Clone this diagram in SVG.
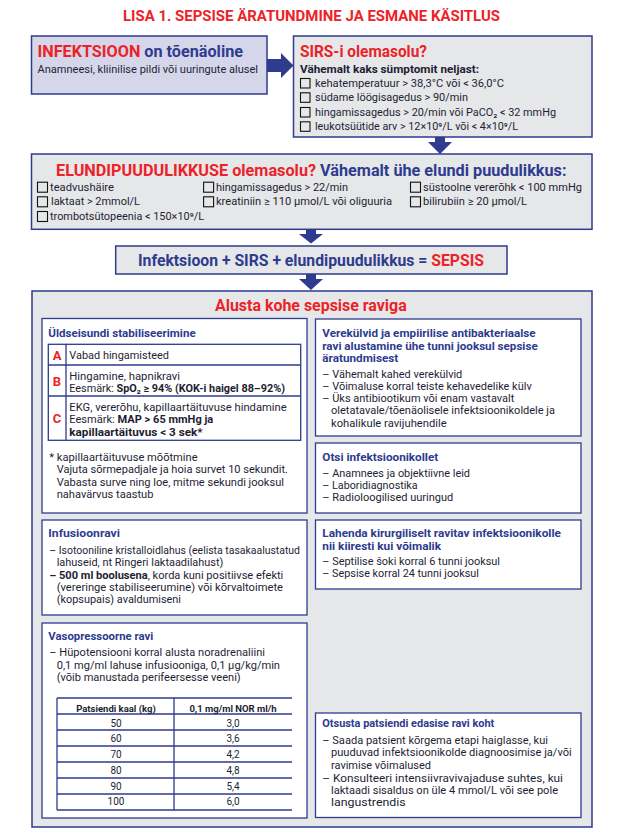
<svg xmlns="http://www.w3.org/2000/svg" width="633" height="835" viewBox="0 0 633 835">
<style>
text{font-family:Roboto,"Noto Sans","DejaVu Sans",sans-serif}
.big{font-size:16px;font-weight:700}
.red{fill:#ec2229}
.nv{fill:#2e3b8e}
.b{font-size:10.4px;fill:#1e1e34}
.bb{font-weight:700}
.h{font-size:10.3px;font-weight:700;fill:#2e3b8e}
.frame{stroke:#2e3b8e;stroke-width:1.5}
.pan{fill:#fff;stroke:#2e3b8e;stroke-width:1.3}
.cb{fill:none;stroke:#111;stroke-width:1.1}
.ln{stroke:#2e3b8e;stroke-width:1.3;fill:none}
.arr{fill:#2e3b8e}
.abc{font-size:13px;font-weight:700;fill:#ec2229}
.th{font-size:9.5px;font-weight:700;fill:#1e1e34}
.td{font-size:10px;fill:#1e1e34}
</style>
<rect width="633" height="835" fill="#fff"/>
<text id="title" class="big red" x="123" y="21" textLength="377" lengthAdjust="spacingAndGlyphs" style="font-size:15.5px">LISA 1. SEPSISE ÄRATUNDMINE JA ESMANE KÄSITLUS</text>

<g id="connectors">
<polygon class="arr" points="267,59 281,59 281,53 293.5,65.5 281,78 281,72 267,72"/>
<polygon class="arr" points="435,137 445,137 445,142 452,142 440,154 428,142 435,142"/>
<polygon class="arr" points="306,229 316,229 316,234 323,234 311,243.5 299,234 306,234"/>
<polygon class="arr" points="306,274 316,274 316,279 323,279 311,290 299,279 306,279"/>
</g>

<g id="infektsioon">
<rect class="frame" x="31.5" y="36" width="235.5" height="58" fill="#d5d6ea"/>
<text class="big" x="37.5" y="57" textLength="205.5" lengthAdjust="spacingAndGlyphs"><tspan class="red">INFEKTSIOON</tspan> <tspan class="nv">on tõenäoline</tspan></text>
<text class="b" x="37.5" y="73" textLength="220.5" lengthAdjust="spacingAndGlyphs">Anamneesi, kliinilise pildi või uuringute alusel</text>
</g>

<g id="sirs">
<rect class="frame" x="293.5" y="36" width="298.5" height="101" fill="#e6e7e9"/>
<text class="big red" x="300" y="57" textLength="127" lengthAdjust="spacingAndGlyphs">SIRS-i olemasolu?</text>
<text class="b bb nv" x="300" y="73" textLength="179" lengthAdjust="spacingAndGlyphs">Vähemalt kaks sümptomit neljast:</text>
<rect class="cb" x="300.5" y="78.5" width="9.5" height="9.5"/>
<rect class="cb" x="300.5" y="92.8" width="9.5" height="9.5"/>
<rect class="cb" x="300.5" y="107.5" width="9.5" height="9.5"/>
<rect class="cb" x="300.5" y="121.8" width="9.5" height="9.5"/>
<text class="b" x="315" y="86.7" textLength="189" lengthAdjust="spacingAndGlyphs">kehatemperatuur  &gt; 38,3°C või &lt; 36,0°C</text>
<text class="b" x="315" y="101" textLength="153" lengthAdjust="spacingAndGlyphs">südame löögisagedus &gt; 90/min</text>
<text class="b" x="315" y="115.7" textLength="241" lengthAdjust="spacingAndGlyphs">hingamissagedus &gt; 20/min või PaCO₂ &lt; 32 mmHg</text>
<text class="b" x="315" y="130" textLength="203" lengthAdjust="spacingAndGlyphs">leukotsüütide arv &gt; 12×10⁹/L või &lt; 4×10⁹/L</text>
</g>

<g id="elundi">
<rect class="frame" x="31.5" y="154" width="560.5" height="75.3" fill="#e6e7e9"/>
<text class="big" x="56" y="176" textLength="510.5" lengthAdjust="spacingAndGlyphs"><tspan class="red">ELUNDIPUUDULIKKUSE olemasolu?</tspan> <tspan class="nv">Vähemalt ühe elundi puudulikkus:</tspan></text>
<rect class="cb" x="37.5" y="182.2" width="10" height="10"/>
<rect class="cb" x="37.5" y="196.8" width="10" height="10"/>
<rect class="cb" x="37.5" y="211.5" width="10" height="10"/>
<rect class="cb" x="203.6" y="182.2" width="10" height="10"/>
<rect class="cb" x="203.6" y="196.8" width="10" height="10"/>
<rect class="cb" x="410.5" y="182.2" width="10" height="10"/>
<rect class="cb" x="410.5" y="196.8" width="10" height="10"/>
<text class="b" x="50" y="190.7" textLength="64" lengthAdjust="spacingAndGlyphs">teadvushäire</text>
<text class="b" x="51" y="205.3" textLength="89" lengthAdjust="spacingAndGlyphs">laktaat &gt; 2mmol/L</text>
<text class="b" x="50" y="220" textLength="154" lengthAdjust="spacingAndGlyphs">trombotsütopeenia &lt; 150×10⁹/L</text>
<text class="b" x="216" y="190.7" textLength="132" lengthAdjust="spacingAndGlyphs">hingamissagedus &gt; 22/min</text>
<text class="b" x="216" y="205.3" textLength="176" lengthAdjust="spacingAndGlyphs">kreatiniin ≥ 110 µmol/L või oliguuria</text>
<text class="b" x="423" y="190.7" textLength="159" lengthAdjust="spacingAndGlyphs">süstoolne vererõhk &lt; 100 mmHg</text>
<text class="b" x="423" y="205.3" textLength="104" lengthAdjust="spacingAndGlyphs">bilirubiin ≥ 20 µmol/L</text>
</g>

<g id="sepsis">
<rect class="frame" x="115.7" y="246" width="391.3" height="28" fill="#e6e7e9"/>
<text class="big nv" x="138" y="266" textLength="346" lengthAdjust="spacingAndGlyphs">Infektsioon + SIRS + elundipuudulikkus = <tspan class="red">SEPSIS</tspan></text>
</g>

<g id="ravi">
<rect class="frame" x="32" y="291" width="560" height="536" fill="#e6e7e9"/>
<text class="big red" x="215" y="311" textLength="191.7" lengthAdjust="spacingAndGlyphs">Alusta kohe sepsise raviga</text>
</g>

<g id="yldseisund">
<rect class="pan" x="42" y="318.5" width="265" height="194.5"/>
<text class="h" x="48.3" y="337.3" textLength="147.4" lengthAdjust="spacingAndGlyphs">Üldseisundi stabiliseerimine</text>
<rect class="ln" x="48.3" y="344.3" width="252.4" height="96"/>
<line class="ln" x1="48.3" y1="365" x2="300.7" y2="365"/>
<line class="ln" x1="48.3" y1="396" x2="300.7" y2="396"/>
<line class="ln" x1="66" y1="344.3" x2="66" y2="440.3"/>
<text class="abc" x="57" y="360" text-anchor="middle">A</text>
<text class="abc" x="57" y="385.7" text-anchor="middle">B</text>
<text class="abc" x="57" y="423" text-anchor="middle">C</text>
<text class="b" x="69.3" y="359" textLength="99.7" lengthAdjust="spacingAndGlyphs">Vabad hingamisteed</text>
<text class="b" x="69.3" y="379.5" textLength="110.7" lengthAdjust="spacingAndGlyphs">Hingamine, hapnikravi</text>
<text class="b" x="69.3" y="392" textLength="215.7" lengthAdjust="spacingAndGlyphs">Eesmärk: <tspan class="bb">SpO₂ ≥ 94% (KOK-i haigel 88–92%)</tspan></text>
<text class="b" x="69.3" y="411" textLength="217.4" lengthAdjust="spacingAndGlyphs">EKG, vererõhu, kapillaartäituvuse hindamine</text>
<text class="b" x="69.3" y="423.4" textLength="144" lengthAdjust="spacingAndGlyphs">Eesmärk: <tspan class="bb">MAP &gt; 65 mmHg ja</tspan></text>
<text class="b bb" x="69.3" y="435.8" textLength="133.4" lengthAdjust="spacingAndGlyphs">kapillaartäituvus &lt; 3 sek*</text>
<text class="b" x="49.3" y="461" textLength="148.3" lengthAdjust="spacingAndGlyphs">* kapillaartäituvuse mõõtmine</text>
<text class="b" x="56.7" y="473.4" textLength="231.3" lengthAdjust="spacingAndGlyphs">Vajuta sõrmepadjale ja hoia survet 10 sekundit.</text>
<text class="b" x="56.7" y="485.8" textLength="227.3" lengthAdjust="spacingAndGlyphs">Vabasta surve ning loe, mitme sekundi jooksul</text>
<text class="b" x="56.7" y="498.3" textLength="96.7" lengthAdjust="spacingAndGlyphs">nahavärvus taastub</text>
</g>

<g id="infusioon">
<rect class="pan" x="42" y="520" width="265" height="95"/>
<text class="h" x="48.3" y="537.3" textLength="71.7" lengthAdjust="spacingAndGlyphs">Infusioonravi</text>
<text class="b" x="49.3" y="554" textLength="250.7" lengthAdjust="spacingAndGlyphs">– Isotooniline kristalloidlahus (eelista tasakaalustatud</text>
<text class="b" x="56.7" y="566.3" textLength="166.7" lengthAdjust="spacingAndGlyphs">lahuseid, nt Ringeri laktaadilahust)</text>
<text class="b" x="49.3" y="578.6" textLength="234" lengthAdjust="spacingAndGlyphs"><tspan class="bb">– 500 ml boolusena</tspan>, korda kuni positiivse efekti</text>
<text class="b" x="56.7" y="590.9" textLength="226.3" lengthAdjust="spacingAndGlyphs">(vereringe stabiliseerumine) või kõrvaltoimete</text>
<text class="b" x="56.7" y="603.2" textLength="124.3" lengthAdjust="spacingAndGlyphs">(kopsupais) avaldumiseni</text>
</g>

<g id="vasopressoorne">
<rect class="pan" x="42" y="623" width="265" height="195"/>
<text class="h" x="48.3" y="640" textLength="105" lengthAdjust="spacingAndGlyphs">Vasopressoorne ravi</text>
<text class="b" x="49.3" y="656.4" textLength="215.7" lengthAdjust="spacingAndGlyphs">– Hüpotensiooni korral alusta noradrenaliini</text>
<text class="b" x="56.7" y="668.7" textLength="223.3" lengthAdjust="spacingAndGlyphs">0,1 mg/ml lahuse infusiooniga, 0,1 µg/kg/min</text>
<text class="b" x="56.7" y="681" textLength="184" lengthAdjust="spacingAndGlyphs">(võib manustada perifeersesse veeni)</text>
<g id="table">
<path class="ln" d="M57,698H292M57,714H292M57,730H292M57,746H292M57,762H292M57,778H292M57,794H292M57,810H292M57,698V810M174,698V810"/>
<text class="th" x="116" y="711.7" text-anchor="middle">Patsiendi kaal (kg)</text>
<text class="th" x="233" y="711.7" text-anchor="middle">0,1 mg/ml NOR ml/h</text>
<text class="td" x="116" y="726.7" text-anchor="middle">50</text>
<text class="td" x="116" y="742.4" text-anchor="middle">60</text>
<text class="td" x="116" y="758.1" text-anchor="middle">70</text>
<text class="td" x="116" y="773.8" text-anchor="middle">80</text>
<text class="td" x="116" y="789.5" text-anchor="middle">90</text>
<text class="td" x="116" y="805.2" text-anchor="middle">100</text>
<text class="td" x="233" y="726.7" text-anchor="middle">3,0</text>
<text class="td" x="233" y="742.4" text-anchor="middle">3,6</text>
<text class="td" x="233" y="758.1" text-anchor="middle">4,2</text>
<text class="td" x="233" y="773.8" text-anchor="middle">4,8</text>
<text class="td" x="233" y="789.5" text-anchor="middle">5,4</text>
<text class="td" x="233" y="805.2" text-anchor="middle">6,0</text>
</g>
</g>

<g id="verekylvid">
<rect class="pan" x="315.5" y="319" width="265.5" height="117"/>
<text class="h" x="322.3" y="337.3" textLength="213.4" lengthAdjust="spacingAndGlyphs">Verekülvid ja empiirilise antibakteriaalse</text>
<text class="h" x="322.3" y="349.6" textLength="215.4" lengthAdjust="spacingAndGlyphs">ravi alustamine ühe tunni jooksul sepsise</text>
<text class="h" x="322.3" y="361.9" textLength="76" lengthAdjust="spacingAndGlyphs">äratundmisest</text>
<text class="b" x="322.3" y="377.5" textLength="140" lengthAdjust="spacingAndGlyphs">– Vähemalt kahed verekülvid</text>
<text class="b" x="322.3" y="389.8" textLength="209.4" lengthAdjust="spacingAndGlyphs">– Võimaluse korral teiste kehavedelike külv</text>
<text class="b" x="322.3" y="402.1" textLength="192" lengthAdjust="spacingAndGlyphs">– Üks antibiootikum või enam vastavalt</text>
<text class="b" x="331" y="414.4" textLength="224" lengthAdjust="spacingAndGlyphs">oletatavale/tõenäolisele infektsioonikoldele ja</text>
<text class="b" x="331" y="426.7" textLength="115.7" lengthAdjust="spacingAndGlyphs">kohalikule ravijuhendile</text>
</g>

<g id="otsi">
<rect class="pan" x="315.5" y="443" width="265.5" height="70"/>
<text class="h" x="322.3" y="461" textLength="116" lengthAdjust="spacingAndGlyphs">Otsi infektsioonikollet</text>
<text class="b" x="322.3" y="476.6" textLength="147.7" lengthAdjust="spacingAndGlyphs">– Anamnees ja objektiivne leid</text>
<text class="b" x="322.3" y="488.9" textLength="95.3" lengthAdjust="spacingAndGlyphs">– Laboridiagnostika</text>
<text class="b" x="322.3" y="501.2" textLength="131" lengthAdjust="spacingAndGlyphs">– Radioloogilised uuringud</text>
</g>

<g id="lahenda">
<rect class="pan" x="315.5" y="520" width="265.5" height="69"/>
<text class="h" x="322.3" y="537.3" textLength="238.7" lengthAdjust="spacingAndGlyphs">Lahenda kirurgiliselt ravitav infektsioonikolle</text>
<text class="h" x="322.3" y="549.6" textLength="118.7" lengthAdjust="spacingAndGlyphs">nii kiiresti kui võimalik</text>
<text class="b" x="322.3" y="564.8" textLength="177.7" lengthAdjust="spacingAndGlyphs">– Septilise šoki korral 6 tunni jooksul</text>
<text class="b" x="322.3" y="577.2" textLength="156.7" lengthAdjust="spacingAndGlyphs">– Sepsise korral 24 tunni jooksul</text>
</g>

<g id="otsusta">
<rect class="pan" x="315.5" y="713" width="265.5" height="104.5"/>
<text class="h" x="322.3" y="727.3" textLength="172" lengthAdjust="spacingAndGlyphs">Otsusta patsiendi edasise ravi koht</text>
<text class="b" x="322.3" y="744" textLength="225.7" lengthAdjust="spacingAndGlyphs">– Saada patsient kõrgema etapi haiglasse, kui</text>
<text class="b" x="331" y="756.3" textLength="240.7" lengthAdjust="spacingAndGlyphs">puuduvad infektsioonikolde diagnoosimise ja/või</text>
<text class="b" x="331" y="768.6" textLength="100" lengthAdjust="spacingAndGlyphs">ravimise võimalused</text>
<text class="b" x="322.3" y="781.7" textLength="240.7" lengthAdjust="spacingAndGlyphs">– Konsulteeri intensiivravivajaduse suhtes, kui</text>
<text class="b" x="331" y="794" textLength="227" lengthAdjust="spacingAndGlyphs">laktaadi sisaldus on üle 4 mmol/L või see pole</text>
<text class="b" x="331" y="806.3" textLength="74.7" lengthAdjust="spacingAndGlyphs">langustrendis</text>
</g>
</svg>
